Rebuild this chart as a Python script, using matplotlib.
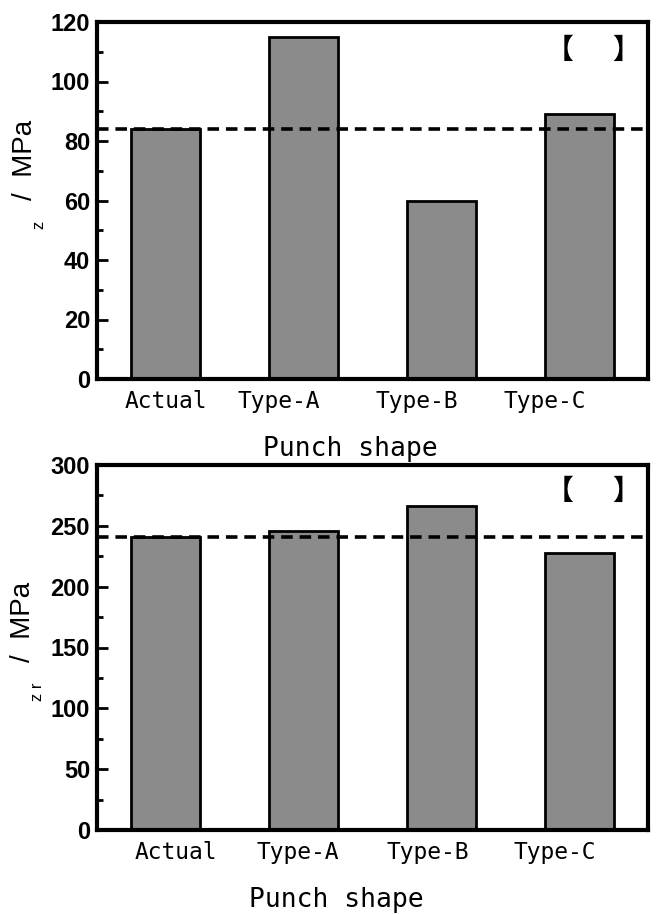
import matplotlib.pyplot as plt
from matplotlib.ticker import MultipleLocator

# punch shapes and the two stress results
shapes = ['Actual', 'Type-A', 'Type-B', 'Type-C']
stress_z = [84, 115, 60, 89]
stress_zr = [241, 246, 266, 228]

W, H = 658, 914
fig = plt.figure(figsize=(W / 100, H / 100), dpi=100)

tick_font = dict(family='Liberation Sans', weight='bold', size=17)
cat_font = 'DejaVu Sans Mono'


def panel(rect, values, ymax, major, minor, label_x, xlabel_x, xlabel_y):
    ax = fig.add_axes(rect)
    x = list(range(len(values)))
    ax.bar(x, values, width=0.5, color='#8b8b8b', edgecolor='black',
           linewidth=2, zorder=2)
    # reference level = the actual punch
    ax.axhline(values[0], color='black', lw=2.6, ls=(0, (3.2, 1.9)), zorder=3)
    ax.set_xlim(-0.5, 3.5)
    ax.set_ylim(0, ymax)
    ax.yaxis.set_major_locator(MultipleLocator(major))
    ax.yaxis.set_minor_locator(MultipleLocator(minor))
    ax.tick_params(axis='y', which='major', direction='in', length=8, width=2, pad=5)
    ax.tick_params(axis='y', which='minor', direction='in', length=4, width=2)
    for t in ax.get_yticklabels():
        t.set(**tick_font)
    ax.set_xticks(label_x, shapes, family=cat_font, size=16.5)
    ax.tick_params(axis='x', length=0, pad=8)
    ax.set_xlabel('Punch shape', family=cat_font, size=19)
    ax.xaxis.set_label_coords(xlabel_x, xlabel_y)
    for s in ax.spines.values():
        s.set_linewidth(3)
    return ax


ax1 = panel([97 / W, 1 - 379 / H, 551 / W, 357 / H], stress_z, 120, 20, 10,
            [0.0, 0.82, 1.82, 2.75], 0.46, -0.16)
ax2 = panel([97 / W, 1 - 830 / H, 551 / W, 365 / H], stress_zr, 300, 50, 25,
            [0.07, 0.96, 1.9, 2.82], 0.435, -0.155)

# y-axis titles (symbol glyph is missing, only subscripts remain)
fig.text(25 / W, 1 - 160 / H, '/  MPa', rotation=90, ha='center', va='center',
         family='Liberation Sans', size=20)
fig.text(39 / W, 1 - 225 / H, 'z', rotation=90, ha='center', va='center',
         family='Liberation Sans', size=12)
fig.text(23 / W, 1 - 622 / H, '/  MPa', rotation=90, ha='center', va='center',
         family='Liberation Sans', size=20)
fig.text(37 / W, 1 - 692 / H, 'z r', rotation=90, ha='center', va='center',
         family='Liberation Sans', size=12)

# empty bracket markers in the corners
for yb in (51, 492):
    fig.text(560 / W, 1 - yb / H, '【', ha='center', va='center',
             family='Noto Sans CJK JP', weight='bold', size=20)
    fig.text(626 / W, 1 - yb / H, '】', ha='center', va='center',
             family='Noto Sans CJK JP', weight='bold', size=20)

fig.savefig('out.png', dpi=100)
